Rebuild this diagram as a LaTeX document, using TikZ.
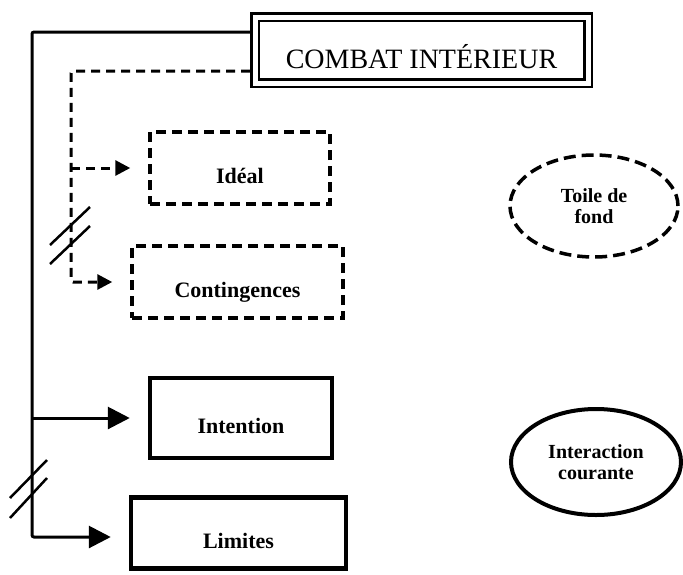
\documentclass[tikz,border=0pt]{standalone}
\usepackage{fontspec}
\setmainfont{Liberation Serif}
\usetikzlibrary{arrows.meta,shapes.geometric}
\begin{document}
\begin{tikzpicture}[x=1pt,y=-1pt,
  solidbox/.style={draw,line width=4.5pt,inner sep=0pt,text height=30pt,text depth=0pt,
    font=\bfseries\fontsize{22}{24}\selectfont},
  dashbox/.style={draw,line width=3.5pt,dash pattern=on 10pt off 6pt,inner sep=0pt,
    text height=30pt,text depth=0pt,font=\bfseries\fontsize{22}{24}\selectfont},
  title/.style={draw,line width=2.5pt,double,double distance=5pt,outer sep=5pt,inner sep=0pt,
    text height=37pt,text depth=0pt,font=\fontsize{28}{30}\selectfont},
  oval/.style={ellipse,inner sep=0pt,align=center,font=\bfseries\fontsize{20}{21}\selectfont},
  conn/.style={line width=3pt,rounded corners=2pt},
  dconn/.style={line width=3pt,rounded corners=2pt,dash pattern=on 9pt off 6pt},
  bigtip/.style={-{Triangle[length=22pt,width=22pt]},shorten >=18pt},
  smalltip/.style={-{Triangle[length=15pt,width=15pt]},shorten >=18pt},
  tick/.style={line width=2.5pt}]
\useasboundingbox (0,0) rectangle (683,574);

% boxes
\node[title,minimum width=333pt,minimum height=66pt] (combat) at (421.5,50) {COMBAT INTÉRIEUR};
\node[dashbox,minimum width=180pt,minimum height=72pt] (ideal) at (240,168) {Idéal};
\node[dashbox,minimum width=211pt,minimum height=72pt] (cont) at (237.5,282) {Contingences};
\node[solidbox,minimum width=182pt,minimum height=80pt] (intention) at (241,418) {Intention};
\node[solidbox,minimum width=215pt,minimum height=71pt] (limites) at (238.5,533) {Limites};

% ellipses
\node[oval,draw,line width=3.5pt,dash pattern=on 12pt off 6pt,minimum width=168pt,minimum height=102pt]
  (toile) at (594,206) {Toile de\\fond};
\node[oval,draw,line width=4pt,minimum width=170pt,minimum height=106pt]
  (inter) at (596,462) {Interaction\\courante};

% solid trunk
\coordinate (s1) at (32,32);
\coordinate (s2) at (32,537);
\draw[conn,bigtip] (combat.west |- s1) -- (s1) -- (s2) -- (limites.west |- s2);
\draw[conn,bigtip] (s1 |- intention.west) -- (intention.west);

% dashed trunk
\coordinate (d1) at (71,71);
\coordinate (d2) at (71,282);
\draw[dconn,smalltip] (combat.west |- d1) -- (d1) -- (d2) -- (cont.west |- d2);
\draw[dconn,smalltip] (d1 |- ideal.west) -- (ideal.west);

% break marks
\draw[tick] (50,245) -- (90,207);
\draw[tick] (50,264) -- (90,226);
\draw[tick] (10,498) -- (47,460);
\draw[tick] (10,518) -- (47,478);
\end{tikzpicture}
\end{document}
